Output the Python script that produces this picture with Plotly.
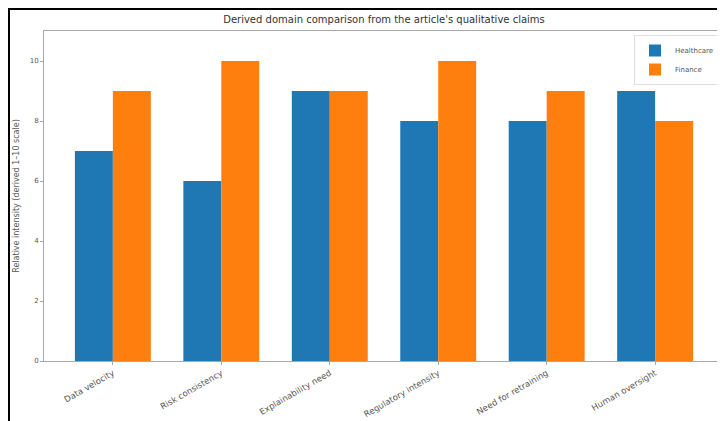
import plotly.graph_objects as go

categories = ["Data velocity", "Risk consistency", "Explainability need",
              "Regulatory intensity", "Need for retraining", "Human oversight"]
healthcare = [7, 6, 9, 8, 8, 9]
finance = [9, 10, 9, 10, 9, 8]
y_ticks = [0, 2, 4, 6, 8, 10]

FONT = "DejaVu Sans"
OFF = 8                      # page body margin of the browser
W, H = 725 - OFF, 421 - OFF
# target plot-area edges in window pixels
PL, PR, PT, PB = 44, 724, 31, 361
L, T = PL - OFF, PT - OFF
R = W - (PR - OFF)
B = H - (PB - OFF)
pw = W - L - R
ph = H - T - B

fig = go.Figure()
fig.add_trace(go.Bar(x=categories, y=healthcare, name="Healthcare",
                     marker=dict(color="#1f77b4", line=dict(width=0))))
fig.add_trace(go.Bar(x=categories, y=finance, name="Finance",
                     marker=dict(color="#ff7f0e", line=dict(width=0))))

def px_x(p):
    return (p - OFF - L) / pw

def px_y(p):
    return 1 - (p - OFF - T) / ph

fig.update_layout(
    width=W, height=H,
    margin=dict(l=L, r=R, t=T, b=B, pad=0, autoexpand=False),
    paper_bgcolor="white", plot_bgcolor="white",
    font=dict(family=FONT, size=7, color="#444"),
    barmode="group", bargap=0.3, bargroupgap=0,
    title=dict(text="Derived domain comparison from the article's qualitative claims",
               x=(384 - OFF) / W, xanchor="center", y=1 - (19 - OFF) / H,
               yanchor="middle", font=dict(size=10, color="#333")),
    xaxis=dict(range=[-0.635, 5.635], tickangle=-30, showgrid=False,
               showline=True, linecolor="#a8a8a8", linewidth=1, mirror=True,
               ticks="outside", ticklen=3, tickcolor="#a8a8a8", automargin=False,
               tickfont=dict(size=8.5, color="#555")),
    yaxis=dict(range=[0, 11], tickvals=y_ticks, showgrid=False, zeroline=False,
               showline=True, linecolor="#a8a8a8", linewidth=1, mirror=True,
               ticks="outside", ticklen=3, tickcolor="#a8a8a8", automargin=False,
               tickfont=dict(size=7, color="#555"),
               title=dict(text="Relative intensity (derived 1–10 scale)",
                          font=dict(size=8, color="#555"), standoff=8)),
    legend=dict(x=px_x(720), y=px_y(35), xanchor="right", yanchor="top",
                bgcolor="white", bordercolor="#dddddd", borderwidth=1,
                font=dict(size=7, color="#555"), itemwidth=30,
                tracegroupgap=0),
    showlegend=True,
)

# outer black frame (screenshot border)
fig.add_shape(type="line", xref="paper", yref="paper",
              x0=px_x(9), x1=px_x(9), y0=px_y(9), y1=px_y(425),
              line=dict(color="black", width=2))
fig.add_shape(type="line", xref="paper", yref="paper",
              x0=px_x(8), x1=px_x(730), y0=px_y(9), y1=px_y(9),
              line=dict(color="black", width=2))

fig.write_html("out.html")
